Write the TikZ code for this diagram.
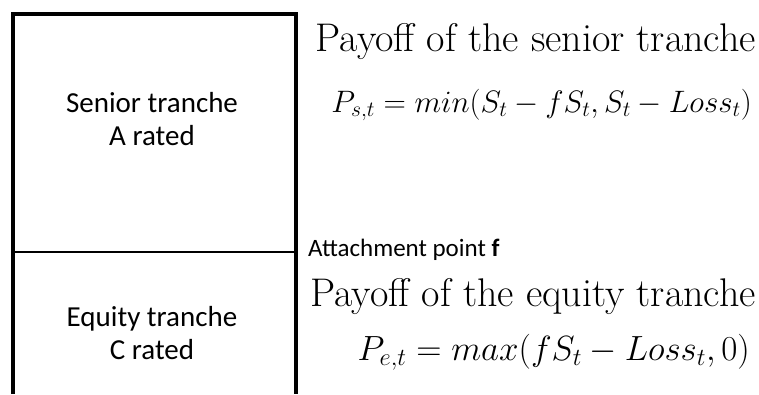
\documentclass[tikz,border=0pt]{standalone}
\usepackage{fix-cm}
\usepackage{fontspec}
\newfontfamily\calib{Carlito}
\tikzset{
  boxtext/.style={font=\calib\fontsize{29}{33}\selectfont, align=center, inner sep=0pt},
  lmtitle/.style={font=\fontsize{40}{48}\selectfont, inner sep=0pt, anchor=east},
  formula/.style={inner sep=0pt, anchor=east},
}
\begin{document}
\begin{tikzpicture}[x=1pt,y=-1pt]
\useasboundingbox (0,0) rectangle (759,394);
\coordinate (bl) at (13,394);
\coordinate (tl) at (13,14);
\coordinate (tr) at (296,14);
\coordinate (br) at (296,394);
\coordinate (ml) at (13,252);
\coordinate (mr) at (296,252);
\draw[line width=4pt, line join=miter] (bl) -- (tl) -- (tr) -- (br);
\draw[line width=2pt] (ml) -- (mr);
\node[boxtext] (sen) at (152,119) {Senior tranche\\A rated};
\node[boxtext] (eq) at (152,333) {Equity tranche\\C rated};
\node[font=\calib\fontsize{25}{30}\selectfont, inner sep=0pt, anchor=west] (att) at (308,250) {Attachment point \textbf{f}};
\node[lmtitle] (ps) at (756,42) {Payoff of the senior tranche};
\node[formula, font=\fontsize{31}{37}\selectfont] (fs) at (752,105) {$P_{s,t} = min(S_t - fS_t, S_t - Loss_t)$};
\node[lmtitle] (pe) at (756,297) {Payoff of the equity tranche};
\node[formula, font=\fontsize{35}{42}\selectfont] (fe) at (750,352) {$P_{e,t} = max(fS_t - Loss_t, 0)$};
\end{tikzpicture}
\end{document}
